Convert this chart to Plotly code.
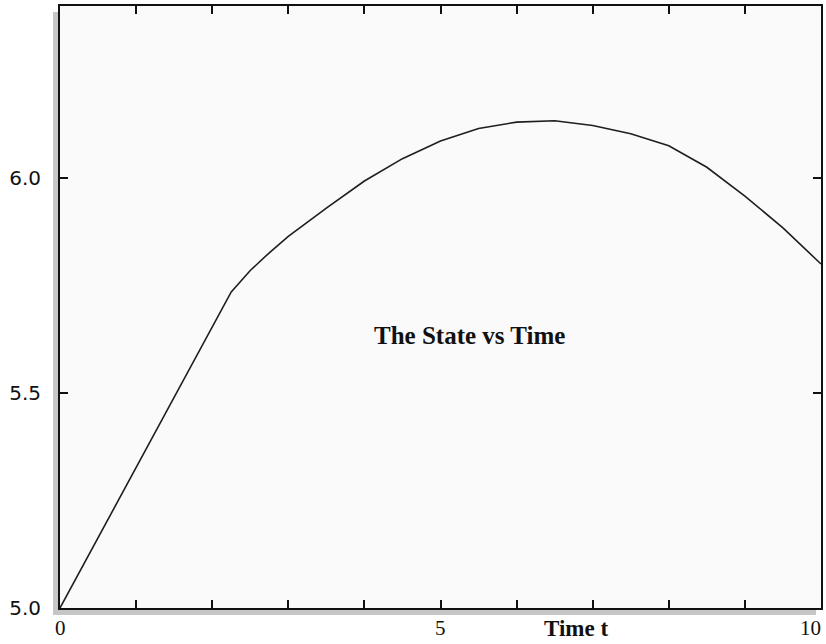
import plotly.graph_objects as go

# State trajectory samples
time_t = [0.0, 2.25, 2.5, 2.75, 3.0, 3.5, 4.0, 4.5, 5.0, 5.5, 6.0, 6.5, 7.0, 7.5,
          8.0, 8.5, 9.0, 9.5, 10.0]
state = [5.000, 5.735, 5.785, 5.826, 5.864, 5.930, 5.993, 6.045, 6.086, 6.115, 6.130,
         6.133, 6.122, 6.103, 6.075, 6.025, 5.958, 5.884, 5.800]

x_ticks = list(range(0, 11))
x_labels = ["0", "5", "10"]
x_label_pos = [0, 5, 10]
y_ticks = [5.0, 5.5, 6.0]
y_labels = ["5.0", "5.5", "6.0"]

W, H = 826, 644
L, R, T, B = 60, 3, 6, 36
pw, ph = W - L - R, H - T - B

fig = go.Figure()
fig.add_trace(go.Scatter(x=time_t, y=state, mode="lines",
                         line=dict(color="#1e1e1e", width=1.6),
                         hoverinfo="skip", showlegend=False))

axis_common = dict(showgrid=False, zeroline=False, showline=True, linecolor="#111",
                   linewidth=2, mirror="ticks", ticks="inside", ticklen=8,
                   tickwidth=2, tickcolor="#111")

fig.update_xaxes(range=[0, 10], tickvals=x_ticks, showticklabels=False, **axis_common)
fig.update_yaxes(range=[5.0, 6.4], tickvals=y_ticks, ticktext=y_labels,
                 tickfont=dict(family="DejaVu Sans", size=20, color="#111"),
                 ticklabelstandoff=13, **axis_common)

# x tick labels (the last one kept inside the figure)
for v, s in zip(x_label_pos, x_labels):
    last = v == x_label_pos[-1]
    fig.add_annotation(x=v, y=0, xref="x", yref="paper", yanchor="top", yshift=-6,
                       xanchor="right" if last else "center", xshift=2 if last else 0,
                       text=s, showarrow=False,
                       font=dict(family="Liberation Serif", size=21, color="#111"))

fig.add_annotation(x=(577 - L) / pw, y=0, xref="paper", yref="paper",
                   xanchor="center", yanchor="top", yshift=-6,
                   text="<b>Time t</b>", showarrow=False,
                   font=dict(family="Liberation Serif", size=23, color="#111"))

fig.add_annotation(x=(471 - L) / pw, y=(608 - 335) / ph, xref="paper", yref="paper",
                   xanchor="center", yanchor="middle",
                   text="<b>The State vs Time</b>", showarrow=False,
                   font=dict(family="Liberation Serif", size=25, color="#111"))

# drop shadow along the left and bottom edges of the frame
shadow = "#c6c6c6"
fig.add_shape(type="rect", xref="paper", yref="paper", layer="below",
              x0=(53 - L) / pw, x1=(59 - L) / pw, y0=(608 - 615) / ph, y1=(608 - 12) / ph,
              fillcolor=shadow, line=dict(width=0))
fig.add_shape(type="rect", xref="paper", yref="paper", layer="below",
              x0=(53 - L) / pw, x1=(818 - L) / pw, y0=(608 - 615) / ph, y1=(608 - 609) / ph,
              fillcolor=shadow, line=dict(width=0))

fig.update_layout(width=W, height=H, margin=dict(l=L, r=R, t=T, b=B),
                  paper_bgcolor="white", plot_bgcolor="#fafafa", showlegend=False)

fig.write_html("out.html")
